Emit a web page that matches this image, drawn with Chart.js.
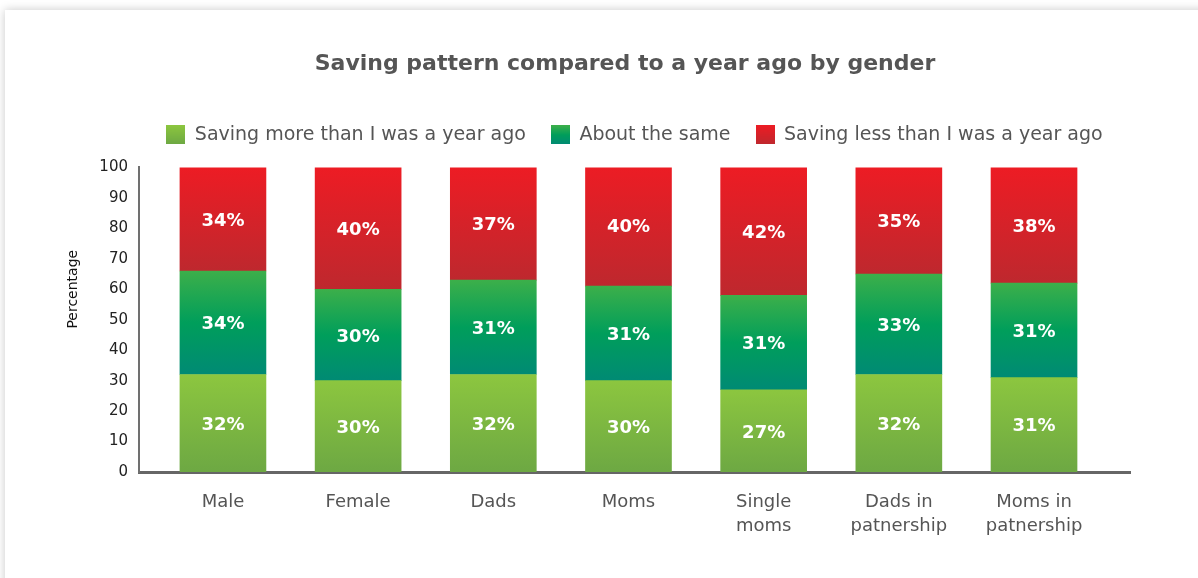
<!DOCTYPE html>
<html lang="en">
    <head>
        <meta charset="utf-8">
        <title>Saving pattern by gender</title>
        <script src="https://cdn.jsdelivr.net/npm/chart.js@4.4.0/dist/chart.umd.min.js"></script>
        <style>
            html, body { margin: 0; padding: 0; background: #fff; overflow: hidden; }
            #card {
                position: absolute; left: 5px; top: 10px; width: 1300px; height: 700px;
                background: #fff; box-shadow: 0 0 9px rgba(0, 0, 0, 0.22);
            }
            #wrap { position: absolute; left: 0; top: 0; width: 1198px; height: 578px; }
        </style>
    </head>
    <body>
        <div id="card"></div>
        <div id="wrap"><canvas id="chart"></canvas></div>

        <script>
        // values
        const categories = ['Male', 'Female', 'Dads', 'Moms', 'Single moms', 'Dads in patnership', 'Moms in patnership'];
        const xTickLabels = [['Male'], ['Female'], ['Dads'], ['Moms'], ['Single', 'moms'], ['Dads in', 'patnership'], ['Moms in', 'patnership']];
        const seriesNames = ['Saving more than I was a year ago', 'About the same', 'Saving less than I was a year ago'];
        const savingMore = [32, 30, 32, 30, 27, 32, 31];
        const aboutSame  = [34, 30, 31, 31, 31, 33, 31];
        const savingLess = [34, 40, 37, 40, 42, 35, 38];
        const yTicks = [0, 10, 20, 30, 40, 50, 60, 70, 80, 90, 100];
        const yTitle = 'Percentage';

        const series = [savingMore, aboutSame, savingLess];
        // gradient stops, top -> bottom
        const gradStops = [
            ['#8cc63f', '#6da843'],
            ['#3caf4a', '#009e5b', '#008a74'],
            ['#ed1c24', '#be282e']
        ];

        function makeGradient(ctx, y0, y1, stops) {
            const g = ctx.createLinearGradient(0, y0, 0, y1);
            stops.forEach((c, i) => g.addColorStop(i / (stops.length - 1), c));
            return g;
        }

        // small gradient squares for the legend
        function legendSwatch(stops) {
            const c = document.createElement('canvas');
            c.width = 19; c.height = 19;
            const cx = c.getContext('2d');
            cx.fillStyle = makeGradient(cx, 0, 19, stops);
            cx.fillRect(0, 0, 19, 19);
            return c;
        }

        function segmentFill(context) {
            const chart = context.chart;
            const ds = context.datasetIndex;
            const stops = gradStops[ds];
            if (!chart.chartArea || context.type !== 'data') return stops[0];
            const i = context.dataIndex;
            let base = 0;
            for (let k = 0; k < ds; k++) base += series[k][i];
            const top = base + series[ds][i];
            const y = chart.scales.y;
            return makeGradient(chart.ctx, y.getPixelForValue(top), y.getPixelForValue(base), stops);
        }

        // white % labels in the middle of each segment + the y title (sits above centre in the original)
        const segmentLabels = {
            id: 'segmentLabels',
            afterDatasetsDraw(chart) {
                const ctx = chart.ctx;
                ctx.save();
                ctx.fillStyle = '#fff';
                ctx.font = 'bold 18px "DejaVu Sans"';
                ctx.textAlign = 'center';
                ctx.textBaseline = 'middle';
                chart.data.datasets.forEach((d, di) => {
                    chart.getDatasetMeta(di).data.forEach((bar, i) => {
                        const p = bar.getProps(['x', 'y', 'base'], true);
                        ctx.fillText(series[di][i] + '%', p.x, (p.y + p.base) / 2 + 2);
                    });
                });
                const ys = chart.scales.y;
                ctx.fillStyle = '#111';
                ctx.font = '14px "DejaVu Sans"';
                ctx.translate(ys.left + 13, ys.getPixelForValue(60));
                ctx.rotate(-Math.PI / 2);
                ctx.fillText(yTitle, 0, 0);
                ctx.restore();
            }
        };

        const ctx = document.getElementById('chart').getContext('2d');
        new Chart(ctx, {
            type: 'bar',
            data: {
                datasets: series.map((vals, di) => ({
                    label: seriesNames[di],
                    data: vals.map((v, i) => ({ x: i, y: v })),
                    backgroundColor: segmentFill,
                    pointStyle: legendSwatch(gradStops[di]),
                    barThickness: 86,
                    borderWidth: 0
                }))
            },
            plugins: [segmentLabels],
            options: {
                responsive: true,
                maintainAspectRatio: false,
                animation: false,
                layout: { padding: { left: 60, right: 8, top: 0, bottom: 0 } },
                plugins: {
                    tooltip: { enabled: false },
                    title: {
                        display: true,
                        text: 'Saving pattern compared to a year ago by gender',
                        color: '#555',
                        font: { family: 'DejaVu Sans', size: 22, weight: 'bold' },
                        padding: { top: 51, bottom: 23 }
                    },
                    legend: {
                        fullSize: false,
                        labels: {
                            usePointStyle: true,
                            pointStyleWidth: 19,
                            color: '#555',
                            font: { family: 'DejaVu Sans', size: 19 },
                            padding: 25
                        }
                    }
                },
                scales: {
                    x: {
                        type: 'linear',
                        stacked: true,
                        offset: false,
                        min: -0.621,
                        max: 6.71,
                        afterBuildTicks: s => { s.ticks = categories.map((c, i) => ({ value: i })); },
                        afterFit: s => { s.height = 106; },
                        grid: { display: false, drawTicks: false, offset: false },
                        border: { color: '#666', width: 3 },
                        ticks: {
                            autoSkip: false,
                            maxRotation: 0,
                            padding: 18,
                            color: '#555',
                            font: { family: 'DejaVu Sans', size: 18, lineHeight: 1.333 },
                            callback: v => xTickLabels[v]
                        }
                    },
                    xTop: {
                        position: 'top',
                        display: true,
                        afterFit: s => { s.height = 13; },
                        grid: { display: false, drawTicks: false },
                        border: { display: false },
                        ticks: { display: false }
                    },
                    y: {
                        stacked: true,
                        min: 0,
                        max: 100,
                        afterBuildTicks: s => { s.ticks = yTicks.map(v => ({ value: v })); },
                        afterFit: s => { s.width = 79; },
                        grid: { display: false, drawTicks: false },
                        border: { color: '#707070', width: 2 },
                        ticks: {
                            padding: 11,
                            color: '#222',
                            font: { family: 'DejaVu Sans', size: 15 }
                        }
                    },
                    yRight: {
                        position: 'right',
                        display: true,
                        afterFit: s => { s.width = 60; },
                        grid: { display: false, drawTicks: false },
                        border: { display: false },
                        ticks: { display: false }
                    }
                }
            }
        });
        </script>
    </body>
</html>
